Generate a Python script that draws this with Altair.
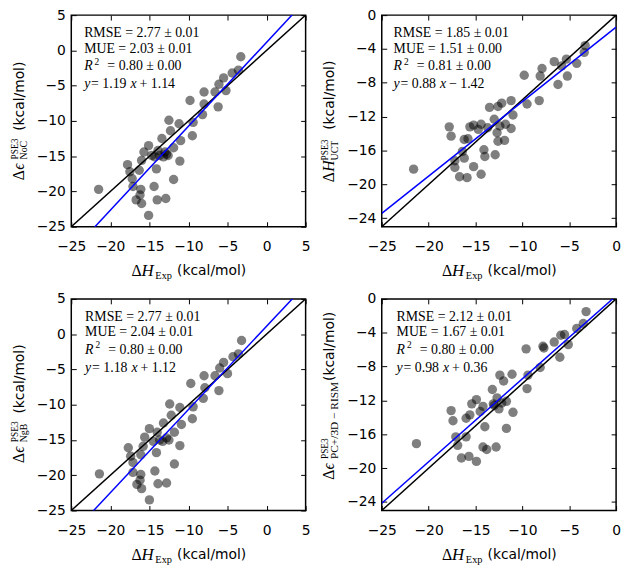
import altair as alt
import pandas as pd

SANS = "DejaVu Sans"
SERIF = "Liberation Serif, DejaVu Serif"

# ---------------- data ----------------
# top-left: NoC
x_noc = [-3.3, -3.6, -4.4, -5.5, -6.1, -5.2, -6.6, -8.0, -8.0, -6.2, -9.8, -8.2, -9.4, -9.5, -11.0, -11.2,
         -12.5, -12.3, -13.4, -11.9, -11.1, -11.9, -15.1, -15.7, -14.7, -13.9, -13.0, -12.6, -13.2, -14.3,
         -16.0, -14.1, -16.3, -17.8, -17.5, -17.2, -17.1, -16.1, -16.2, -16.7, -16.0, -14.4, -14.0, -12.9,
         -15.1, -21.5, -13.7, -12.8]
y_noc = [-0.9, -2.8, -3.2, -3.9, -4.8, -5.7, -5.9, -5.9, -7.6, -8.0, -7.1, -9.1, -10.2, -12.1, -12.8, -10.4,
         -9.9, -11.4, -12.5, -13.8, -15.7, -18.3, -13.5, -14.4, -14.9, -14.2, -14.4, -14.9, -15.1, -15.1,
         -15.6, -16.8, -17.0, -16.2, -17.2, -18.2, -19.3, -19.7, -20.5, -21.2, -21.7, -19.3, -21.2, -21.0,
         -23.4, -19.7, -14.9, -14.7]

# top-right: UCT
x_uct = [-3.3, -3.4, -4.2, -5.3, -5.8, -6.6, -7.9, -8.1, -5.2, -6.2, -9.8, -8.2, -9.5, -11.2, -11.0, -12.2,
         -12.6, -13.5, -13.0, -11.8, -11.2, -11.9, -12.6, -12.7, -14.4, -15.2, -15.6, -14.7, -13.7, -17.8,
         -17.6, -16.2, -15.8, -14.1, -14.0, -12.9, -16.2, -16.4, -17.2, -17.2, -16.7, -15.9, -15.2, -14.4,
         -21.6, -12.4]
y_uct = [-3.6, -4.4, -5.7, -5.2, -6.0, -5.5, -6.3, -7.2, -7.2, -8.2, -7.1, -10.1, -10.5, -10.1, -11.8, -10.4,
         -10.8, -10.9, -12.3, -12.9, -13.4, -14.8, -14.9, -13.9, -12.9, -13.0, -13.2, -13.5, -13.3, -13.2,
         -14.3, -14.7, -14.6, -15.9, -16.7, -16.5, -16.9, -16.1, -17.2, -18.0, -19.1, -19.2, -17.9, -18.8,
         -18.2, -13.1]

# bottom-left: NgB
x_ngb = [-3.2, -3.6, -4.3, -5.5, -6.0, -5.0, -6.6, -8.0, -7.9, -6.1, -9.7, -8.1, -9.4, -9.5, -10.9, -11.1,
         -12.4, -12.2, -13.2, -11.8, -11.1, -11.8, -15.0, -15.6, -14.5, -13.7, -12.8, -12.5, -14.0, -15.8,
         -14.1, -16.1, -17.7, -17.4, -17.1, -17.1, -16.1, -16.2, -16.6, -16.0, -14.3, -13.9, -12.8, -15.0,
         -21.4, -13.3]
y_ngb = [-0.9, -2.8, -3.2, -4.0, -4.8, -5.6, -5.9, -5.9, -7.6, -8.0, -7.0, -9.1, -10.3, -12.0, -12.8, -10.4,
         -9.9, -11.5, -12.6, -13.9, -15.8, -18.4, -13.4, -14.6, -15.2, -15.0, -14.7, -15.0, -13.9, -15.9,
         -16.8, -17.1, -16.1, -17.3, -18.2, -19.6, -19.9, -20.7, -21.3, -21.9, -19.4, -21.2, -21.1, -23.5,
         -19.8, -15.2]

# bottom-right: PC+/3D-RISM
x_pc = [-3.2, -3.5, -4.2, -5.1, -5.5, -5.9, -6.6, -6.0, -7.8, -9.6, -8.1, -9.4, -9.5, -11.1, -12.0, -12.4,
        -13.2, -11.0, -11.7, -11.7, -12.7, -12.5, -14.2, -14.9, -15.4, -15.6, -16.0, -17.6, -17.4, -14.5,
        -14.0, -17.1, -16.9, -16.0, -14.2, -13.8, -12.8, -16.5, -15.7, -14.9, -21.3, -13.1, -13.0, -12.2,
        -7.7]
y_pc = [-1.5, -2.9, -3.5, -5.4, -4.2, -4.3, -5.1, -6.9, -5.6, -5.9, -8.1, -9.0, -10.6, -8.9, -9.7, -9.0,
        -10.7, -13.4, -15.3, -12.1, -11.7, -13.0, -12.7, -11.9, -12.4, -13.7, -14.1, -13.2, -14.4, -13.3,
        -15.1, -16.3, -17.3, -16.3, -17.5, -17.8, -17.5, -18.8, -18.6, -19.2, -17.1, -12.4, -12.6, -12.3,
        -5.8]

# statistics shown in each panel: RMSE, MUE, R^2, slope, intercept
stats_noc = ["2.77 ± 0.01", "2.03 ± 0.01", "0.80 ± 0.00", 1.19, 1.14]
stats_uct = ["1.85 ± 0.01", "1.51 ± 0.00", "0.81 ± 0.00", 0.88, -1.42]
stats_ngb = ["2.77 ± 0.01", "2.04 ± 0.01", "0.80 ± 0.00", 1.18, 1.12]
stats_pc = ["2.12 ± 0.01", "1.67 ± 0.01", "0.80 ± 0.00", 0.98, 0.36]

# axes
dom_left = [-25, 5]
dom_right = [-25, 0]
ticks_left = [-25, -20, -15, -10, -5, 0, 5]
ticks_right_x = [-25, -20, -15, -10, -5, 0]
ticks_right_y = [0, -4, -8, -12, -16, -20, -24]

W, H = 237, 214


def axis(orient, vals, labels, pad):
    return alt.Axis(orient=orient, values=vals, labels=labels, format="d", domain=False, grid=False,
                    ticks=True, tickSize=5, tickWidth=1, tickColor="black", offset=-5,
                    labelFont=SANS, labelFontSize=14, labelColor="black", labelPadding=pad,
                    labelFlush=False, labelOverlap=False, title=None)


def fmt_num(v):
    return f"{abs(v):.2f}"


def text_layers(rows):
    df = pd.DataFrame(rows, columns=["text", "px", "py", "fs", "ang", "font", "style", "base"])
    layers = []
    for (font, style, base), g in df.groupby(["font", "style", "base"]):
        layers.append(
            alt.Chart(g.reset_index(drop=True)).mark_text(
                font=font, fontStyle=style, baseline=base, align="left", color="black"
            ).encode(
                x=alt.X("px:Q", scale=None, axis=None),
                y=alt.Y("py:Q", scale=None, axis=None),
                text="text:N",
                size=alt.Size("fs:Q", scale=None, legend=None),
                angle=alt.Angle("ang:Q", scale=None, legend=None),
            )
        )
    return layers


def panel(xs, ys, xdom, ydom, xt, yt, stats, ysecond, ysub, tx, ypos, subfs=10):
    xsc = alt.Scale(domain=xdom, nice=False, zero=False)
    ysc = alt.Scale(domain=ydom, nice=False, zero=False)
    pts = alt.Chart(pd.DataFrame({"x": xs, "y": ys})).mark_circle(
        size=90, color="black", opacity=0.5
    ).encode(
        x=alt.X("x:Q", scale=xsc, axis=axis("bottom", xt, True, 13)),
        y=alt.Y("y:Q", scale=ysc, axis=axis("left", yt, True, 6)),
    )
    ident = alt.Chart(pd.DataFrame({"x": xdom, "y": ydom})).mark_line(
        color="black", strokeWidth=1.5, clip=True
    ).encode(
        x=alt.X("x:Q", scale=xsc, axis=axis("top", xt, False, 0)),
        y=alt.Y("y:Q", scale=ysc, axis=axis("right", yt, False, 0)),
    )
    slope, icpt = stats[3], stats[4]
    fit = alt.Chart(pd.DataFrame({"x": xdom, "y": [slope * v + icpt for v in xdom]})).mark_line(
        color="#0000ff", strokeWidth=1.5, clip=True
    ).encode(
        x=alt.X("x:Q", scale=xsc, axis=None),
        y=alt.Y("y:Q", scale=ysc, axis=None),
    )
    sign = "+" if icpt >= 0 else "\u2212"
    yb0, ys0, yp0 = ypos
    rows = [
        ("RMSE = " + stats[0], tx, 22, 14, 0, SERIF, "normal", "alphabetic"),
        ("MUE = " + stats[1], tx, 38, 14, 0, SERIF, "normal", "alphabetic"),
        ("R", tx, 56, 14, 0, SERIF, "italic", "alphabetic"),
        ("2", tx + 10.5, 50, 9.5, 0, SERIF, "normal", "alphabetic"),
        ("= " + stats[2], tx + 23.5, 56, 14, 0, SERIF, "normal", "alphabetic"),
        ("y", tx, 74, 14, 0, SERIF, "italic", "alphabetic"),
        ("= " + f"{slope:.2f}", tx + 7, 74, 14, 0, SERIF, "normal", "alphabetic"),
        ("x", tx + 47, 74, 14, 0, SERIF, "italic", "alphabetic"),
        (sign + " " + fmt_num(icpt), tx + 56, 74, 14, 0, SERIF, "normal", "alphabetic"),
        # x title
        ("\u0394", 61, H + 45, 16, 0, SERIF, "normal", "middle"),
        ("H", 71, H + 45, 17, 0, SERIF, "italic", "middle"),
        ("Exp", 85, H + 50, 10.5, 0, SERIF, "normal", "middle"),
        ("(kcal/mol)", 107, H + 45, 14, 0, SANS, "normal", "middle"),
        # y title (rotated)
        ("\u0394", -48, yb0, 16, 270, SERIF, "normal", "alphabetic"),
        (ysecond, -48, yb0 - 10.5, 16, 270, SERIF, "italic", "alphabetic"),
        ("PSE3", -54, ys0, 9.5, 270, SERIF, "normal", "alphabetic"),
        (ysub, -44.5, ys0, subfs, 270, SERIF, "normal", "alphabetic"),
        ("(kcal/mol)", -48, yp0, 14, 270, SANS, "normal", "alphabetic"),
    ]
    return alt.layer(pts, ident, fit, *text_layers(rows)).resolve_scale(
        x="independent", y="independent"
    ).properties(width=W, height=H)


tl = panel(x_noc, y_noc, dom_left, dom_left, ticks_left, ticks_left, stats_noc,
           "\u03f5", "NoC", 13, (167, 146, 117))
tr = panel(x_uct, y_uct, dom_right, dom_right, ticks_right_x, ticks_right_y, stats_uct,
           "H", "UCT", 12, (169, 147, 116))
bl = panel(x_ngb, y_ngb, dom_left, dom_left, ticks_left, ticks_left, stats_ngb,
           "\u03f5", "NgB", 14, (166, 145, 116))
br = panel(x_pc, y_pc, dom_right, dom_right, ticks_right_x, ticks_right_y, stats_pc,
           "\u03f5", "PC+/3D \u2212 RISM", 15, (183, 162, 83), subfs=11.5)

chart = alt.ConcatChart(
    concat=[tl, tr, bl, br], columns=2, spacing={"row": 73, "column": 77}, bounds="flush"
).properties(
    padding={"left": 1, "top": -4, "right": 2, "bottom": 2}, background="white"
).configure_view(stroke="black", strokeWidth=1.5)

chart.save("out.html", embed_options={"renderer": "svg", "actions": False})
